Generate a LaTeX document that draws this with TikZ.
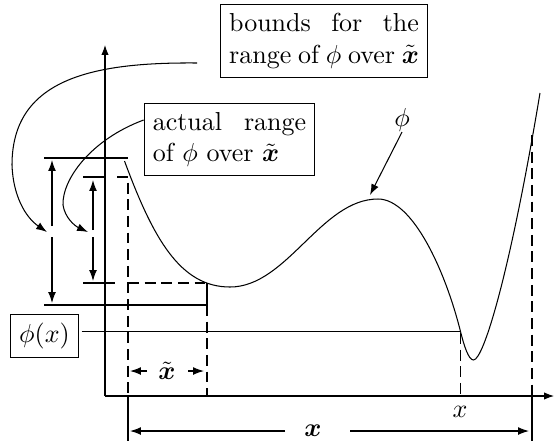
\documentclass[tikz,border=0pt]{standalone}
\usepackage{amsmath}
\usetikzlibrary{arrows.meta}
\begin{document}
\begin{tikzpicture}[x=0.3846pt,y=-0.3846pt,
  box/.style={draw,inner sep=3.33pt,align=left},
  arr/.style={-{Latex[length=4.2pt,width=3pt]}},
  axarr/.style={-{Latex[length=3.8pt,width=2.8pt]}},
  dsh/.style={dash pattern=on 4.2pt off 2.2pt},
  lab/.style={inner sep=0pt}]
\useasboundingbox (0,0) rectangle (554,442);
% axes
\coordinate (O) at (105,396);
\coordinate (ytop) at (105,45);
\coordinate (xend) at (554,396);
\draw[axarr] (O) -- (ytop);
\draw[axarr] (O) -- (xend);

% key coordinates
\coordinate (fx) at (460.5,331.5);
\coordinate (peak) at (370,195);
\coordinate (Lx) at (128,396);
\coordinate (Rx) at (532,396);
\coordinate (Lt) at (128,177);
\coordinate (Rt) at (207,305);
\coordinate (bstart) at (197,63);
\coordinate (gapO) at (47,232);
\coordinate (gapI) at (88,232);

% the function phi
\draw (124.5,161) .. controls (153,238) and (180,287) .. (230,287)
  .. controls (287,287) and (321,199) .. (378,199)
  .. controls (413,199) and (445.5,271.5) .. (fx)
  .. controls (464,345.5) and (468.5,360) .. (473.5,360)
  .. controls (483.5,360) and (510,273.3) .. (540,93);

% text boxes
\node[box] (bounds) at (324,41) {\makebox[73pt][s]{bounds for the}\\\makebox[73pt][s]{range of $\phi$ over $\tilde{\boldsymbol{x}}$}};
\node[box] (actual) at (229.5,139.5) {\makebox[59pt][s]{actual range}\\of $\phi$ over $\tilde{\boldsymbol{x}}$};
\node[box,outer xsep=1.2pt] (phix) at (44.5,336) {$\phi(x)$};
\node[lab] (phl) at (402,120) {$\phi$};
\node (xl) at (460,412) {$x$};
\node[lab] (xt) at (167,371) {$\tilde{\boldsymbol{x}}$};
\node[lab] (bx) at (313,430.5) {$\boldsymbol{x}$};

% bounds for the range (outer)
\draw (44,158) -- (128,158);
\draw (44,305) -- (207,305) -- (207,283);
% actual range (inner)
\draw (83,177) -- (105,177);
\draw[dsh] (117,177) -- (Lt) -- (Lx);
\draw (83,283) -- (115,283);
\draw[dsh] (128,283) -- (207,283);
\draw[dsh] (Rt) -- (207,396);
\draw (Lx) -- (128,441);
\draw[dsh] (460.5,333) -- (460.5,396);
\draw[dsh] (532,135) -- (Rx);
\draw (Rx) -- (532,441);

% vertical range arrows
\draw[arr] (52,226) -- (52,160);
\draw[arr] (52,237) -- (52,303);
\draw[arr] (93,230) -- (93,180);
\draw[arr] (93,237) -- (93,281);

% phi(x) line
\draw (phix.east |- fx) -- (fx);

% labels' arrows
\draw[arr] (phl.south) -- (peak);
\draw[arr] (147,371) -- (130,371);
\draw[arr] (188,371) -- (204,371);
\draw[arr] (285,431) -- (130,431);
\draw[arr] (350,431) -- (529,431);

% curved pointers
\draw[arr] (bstart) .. controls (90,62) and (12,80) .. (12,165) .. controls (13,195) and (25,217) .. (gapO);
\draw[arr] ([yshift=7.5pt]actual.west) .. controls (90,140) and (62,180) .. (63,205) .. controls (65,218) and (75,226) .. (gapI);
\end{tikzpicture}
\end{document}
